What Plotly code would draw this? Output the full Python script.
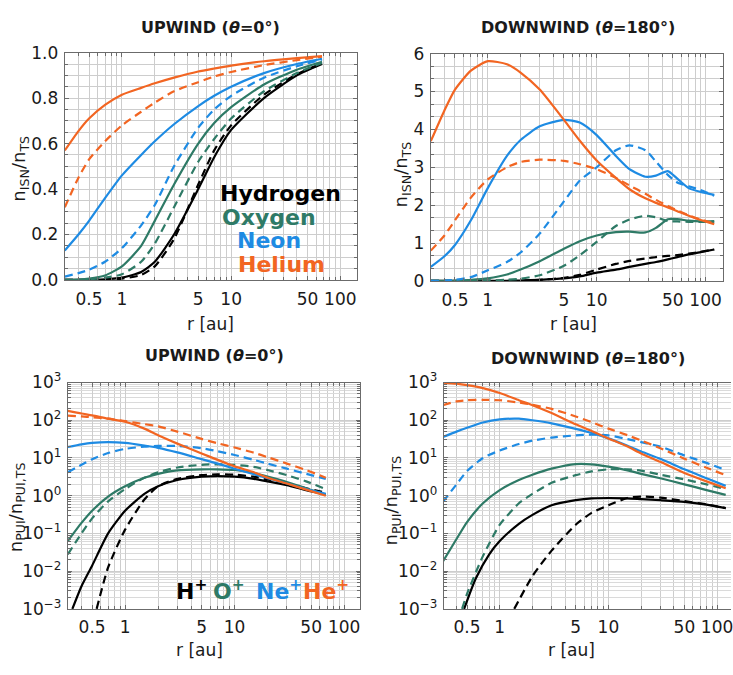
import plotly.graph_objects as go

# ---------------- colours ----------------
C_H = "#000000"
C_O = "#2E7A66"
C_NE = "#1E8BE3"
C_HE = "#F26522"

# ---------------- top-left: UPWIND n_ISN/n_TS ----------------
tl_r = [0.3, 0.4, 0.5, 0.7, 1, 1.5, 2, 3, 5, 7, 10, 20, 40, 68]
tl_he_s = [0.57, 0.655, 0.71, 0.77, 0.815, 0.845, 0.865, 0.89, 0.917, 0.93, 0.943, 0.962, 0.976, 0.985]
tl_he_d = [0.32, 0.45, 0.53, 0.61, 0.68, 0.74, 0.78, 0.83, 0.87, 0.895, 0.915, 0.945, 0.967, 0.982]
tl_ne_s = [0.13, 0.2, 0.26, 0.36, 0.46, 0.55, 0.61, 0.685, 0.765, 0.81, 0.85, 0.91, 0.95, 0.973]
tl_ne_d = [0.015, 0.03, 0.045, 0.08, 0.14, 0.24, 0.33, 0.5, 0.67, 0.75, 0.81, 0.89, 0.94, 0.97]
tl_o_s = [0.0, 0.002, 0.006, 0.02, 0.06, 0.15, 0.26, 0.42, 0.6, 0.69, 0.76, 0.86, 0.925, 0.96]
tl_o_d = [0.0, 0.001, 0.003, 0.01, 0.025, 0.08, 0.16, 0.32, 0.52, 0.62, 0.71, 0.83, 0.91, 0.955]
tl_h_s = [0.0, 0.0, 0.001, 0.003, 0.01, 0.035, 0.08, 0.2, 0.4, 0.54, 0.66, 0.8, 0.9, 0.95]
tl_h_d = [0.0, 0.0, 0.0, 0.002, 0.006, 0.022, 0.06, 0.18, 0.42, 0.57, 0.68, 0.815, 0.905, 0.952]

# ---------------- top-right: DOWNWIND n_ISN/n_TS ----------------
tr_r = [0.3, 0.4, 0.5, 0.7, 1, 1.5, 2, 3, 5, 7, 10, 15, 20, 28, 35, 45, 55, 70, 90, 120]
tr_he_s = [3.69, 4.5, 5.05, 5.55, 5.8, 5.72, 5.5, 5.05, 4.25, 3.7, 3.18, 2.72, 2.42, 2.18, 2.06, 1.94, 1.84, 1.72, 1.61, 1.5]
tr_he_d = [0.8, 1.2, 1.6, 2.2, 2.68, 3.0, 3.14, 3.2, 3.17, 3.08, 2.95, 2.72, 2.52, 2.3, 2.14, 1.98, 1.86, 1.73, 1.62, 1.52]
tr_ne_s = [0.37, 0.65, 0.95, 1.6, 2.45, 3.3, 3.72, 4.08, 4.25, 4.18, 3.85, 3.3, 2.95, 2.75, 2.78, 2.9, 2.7, 2.45, 2.35, 2.27]
tr_ne_d = [0.0, 0.01, 0.03, 0.1, 0.28, 0.5, 0.75, 1.25, 2.1, 2.65, 3.0, 3.45, 3.58, 3.45, 3.15, 2.8, 2.6, 2.5, 2.4, 2.25]
tr_o_s = [0.0, 0.0, 0.01, 0.03, 0.07, 0.17, 0.3, 0.52, 0.85, 1.05, 1.2, 1.29, 1.3, 1.28, 1.4, 1.63, 1.63, 1.59, 1.57, 1.58]
tr_o_d = [0.0, 0.0, 0.0, 0.005, 0.01, 0.03, 0.06, 0.15, 0.4, 0.68, 1.03, 1.45, 1.62, 1.72, 1.68, 1.58, 1.57, 1.56, 1.56, 1.56]
tr_h_s = [0.0, 0.0, 0.0, 0.0, 0.0, 0.005, 0.01, 0.03, 0.07, 0.12, 0.22, 0.3, 0.37, 0.45, 0.5, 0.57, 0.63, 0.7, 0.76, 0.83]
tr_h_d = [0.0, 0.0, 0.0, 0.0, 0.0, 0.005, 0.01, 0.03, 0.08, 0.16, 0.3, 0.45, 0.53, 0.59, 0.63, 0.66, 0.68, 0.72, 0.77, 0.83]

# ---------------- bottom-left: UPWIND n_PUI/n_PUI,TS ----------------
bl_r = [0.3, 0.4, 0.5, 0.7, 1, 1.5, 2, 3, 5, 7, 10, 15, 20, 30, 45, 68]
bl_he_s = [178, 151, 135, 110, 91, 60, 40, 24, 13.2, 8.9, 6.0, 4.2, 3.0, 2.1, 1.45, 1.0]
bl_he_d = [132, 126, 120, 110, 95, 79, 69, 50, 32, 24.5, 19, 13.8, 10.5, 7.1, 4.8, 3.0]
bl_ne_s = [19.5, 22.9, 25.1, 26.3, 25.1, 21.4, 18.6, 14.1, 9.3, 7.1, 5.2, 3.7, 2.9, 2.1, 1.5, 1.12]
bl_ne_d = [4.2, 6.6, 9.3, 13.5, 17.4, 20, 20.9, 20.9, 18.2, 15.1, 12.0, 8.9, 7.1, 5.2, 3.8, 2.8]
bl_o_s = [0.063, 0.19, 0.40, 0.95, 1.78, 3.0, 3.8, 4.7, 5.0, 5.0, 4.8, 4.0, 3.2, 2.3, 1.58, 1.05]
bl_o_d = [0.028, 0.1, 0.25, 0.71, 1.5, 3.0, 4.2, 5.6, 6.6, 6.8, 6.6, 5.8, 4.8, 3.5, 2.4, 1.5]
bl_h_r = [0.33, 0.4, 0.5, 0.7, 1, 1.5, 2, 3, 5, 7, 10, 15, 20, 30, 45, 68]
bl_h_s = [0.001, 0.004, 0.014, 0.1, 0.4, 1.12, 1.78, 2.6, 3.2, 3.3, 3.2, 2.8, 2.4, 1.9, 1.4, 1.07]
bl_hd_r = [0.55, 0.7, 1, 1.5, 2, 3, 5, 7, 10, 15, 20, 30, 45, 68]
bl_h_d = [0.001, 0.0126, 0.126, 0.79, 1.78, 2.8, 3.5, 3.7, 3.6, 3.2, 2.7, 2.1, 1.58, 1.2]

# ---------------- bottom-right: DOWNWIND n_PUI/n_PUI,TS ----------------
br_r = [0.3, 0.4, 0.5, 0.7, 1, 1.5, 2, 3, 5, 7, 10, 15, 20, 30, 50, 80, 120]
br_he_s = [1000, 933, 851, 708, 525, 339, 251, 155, 78, 52, 33, 20, 13.2, 7.9, 4.0, 2.4, 1.58]
br_he_d = [251, 316, 339, 347, 339, 295, 257, 200, 126, 89, 60, 40, 29, 18.2, 9.5, 5.5, 3.5]
br_ne_s = [36, 50, 63, 87, 105, 110, 100, 83, 59, 46, 33, 21, 14.8, 9.5, 5.0, 2.9, 1.82]
br_ne_d = [0.69, 2.0, 4.5, 10, 15.8, 23.4, 28.8, 34.7, 39.8, 41.7, 39.8, 31.6, 26.3, 20, 11.7, 7.4, 4.8]
br_o_s = [0.018, 0.071, 0.2, 0.63, 1.41, 2.6, 3.6, 5.2, 6.9, 6.8, 5.9, 4.7, 3.8, 2.9, 2.0, 1.41, 1.05]
br_od_r = [0.45, 0.5, 0.7, 1, 1.5, 2, 3, 5, 7, 10, 15, 20, 30, 50, 80, 120]
br_o_d = [0.001, 0.0025, 0.025, 0.17, 0.63, 1.12, 2.2, 3.5, 4.4, 5.0, 5.0, 4.6, 3.6, 2.7, 2.0, 1.5]
br_h_r = [0.47, 0.6, 0.8, 1, 1.5, 2, 3, 5, 7, 10, 15, 20, 30, 50, 80, 120]
br_h_s = [0.001, 0.0063, 0.028, 0.063, 0.18, 0.31, 0.56, 0.76, 0.85, 0.87, 0.85, 0.81, 0.76, 0.69, 0.58, 0.47]
br_hd_r = [1.36, 2, 3, 5, 7, 10, 15, 20, 30, 50, 80, 120]
br_h_d = [0.001, 0.0074, 0.035, 0.17, 0.35, 0.56, 0.87, 0.95, 0.89, 0.72, 0.59, 0.47]

# ---------------- tick labels ----------------
x_tickvals = [0.5, 1, 5, 10, 50, 100]
x_ticktext = ["0.5", "1", "5", "10", "50", "100"]
x_minorvals = [0.3, 0.4, 0.6, 0.7, 0.8, 0.9, 2, 3, 4, 6, 7, 8, 9,
               20, 30, 40, 60, 70, 80, 90, 200]
log_y_tickvals = [1e-3, 1e-2, 1e-1, 1, 10, 100, 1000]
log_y_ticktext = ["10<sup>−3</sup>", "10<sup>−2</sup>", "10<sup>−1</sup>", "10<sup>0</sup>",
                  "10<sup>1</sup>", "10<sup>2</sup>", "10<sup>3</sup>"]
log_y_minor = [m * 10 ** e for e in range(-3, 3) for m in range(2, 10)]

FONT = "DejaVu Sans, Arial, sans-serif"
W, H = 733, 675
GRID = "#cdcdcd"
FRAME = "#6b6b6b"
TXT = "#1a1a1a"

fig = go.Figure()


def line(r, v, color, dashed, xa, ya):
    fig.add_trace(go.Scatter(
        x=r, y=v, mode="lines", xaxis=xa, yaxis=ya, showlegend=False, hoverinfo="skip",
        line=dict(color=color, width=2.2, dash="8px,5px" if dashed else "solid",
                  shape="spline", smoothing=0.6)))


# top-left
for col, s, d in [(C_H, tl_h_s, tl_h_d), (C_O, tl_o_s, tl_o_d), (C_NE, tl_ne_s, tl_ne_d), (C_HE, tl_he_s, tl_he_d)]:
    line(tl_r, d, col, True, "x", "y")
    line(tl_r, s, col, False, "x", "y")
# top-right
for col, s, d in [(C_H, tr_h_s, tr_h_d), (C_O, tr_o_s, tr_o_d), (C_NE, tr_ne_s, tr_ne_d), (C_HE, tr_he_s, tr_he_d)]:
    line(tr_r, d, col, True, "x2", "y2")
    line(tr_r, s, col, False, "x2", "y2")
# bottom-left
line(bl_hd_r, bl_h_d, C_H, True, "x3", "y3")
line(bl_h_r, bl_h_s, C_H, False, "x3", "y3")
for col, s, d in [(C_O, bl_o_s, bl_o_d), (C_NE, bl_ne_s, bl_ne_d), (C_HE, bl_he_s, bl_he_d)]:
    line(bl_r, d, col, True, "x3", "y3")
    line(bl_r, s, col, False, "x3", "y3")
# bottom-right
line(br_hd_r, br_h_d, C_H, True, "x4", "y4")
line(br_h_r, br_h_s, C_H, False, "x4", "y4")
line(br_od_r, br_o_d, C_O, True, "x4", "y4")
line(br_r, br_o_s, C_O, False, "x4", "y4")
for col, s, d in [(C_NE, br_ne_s, br_ne_d), (C_HE, br_he_s, br_he_d)]:
    line(br_r, d, col, True, "x4", "y4")
    line(br_r, s, col, False, "x4", "y4")


def px_x(p):
    return p / W


def px_y(p):
    return 1 - p / H


def xaxis(dom, rng, anchor, standoff):
    return dict(type="log", domain=dom, range=rng, anchor=anchor,
                tickmode="array", tickvals=x_tickvals, ticktext=x_ticktext,
                ticks="inside", ticklen=4, tickcolor=FRAME, ticklabelstandoff=standoff,
                ticklabeloverflow="allow",
                showgrid=True, gridcolor=GRID, gridwidth=1,
                minor=dict(tickmode="array", tickvals=x_minorvals, showgrid=True,
                           gridcolor=GRID, gridwidth=1, ticks="inside", ticklen=3, tickcolor=FRAME),
                showline=True, linecolor=FRAME, linewidth=1.2, mirror="ticks",
                tickfont=dict(size=17, color=TXT, family=FONT), zeroline=False)


def yaxis_lin(dom, rng, anchor, vals, texts, minor_dt):
    return dict(domain=dom, range=rng, anchor=anchor,
                tickmode="array", tickvals=vals, ticktext=texts,
                ticks="inside", ticklen=4, tickcolor=FRAME, ticklabelstandoff=2,
                showgrid=True, gridcolor=GRID,
                minor=dict(dtick=minor_dt, showgrid=True, gridcolor=GRID, ticks="inside",
                           ticklen=3, tickcolor=FRAME),
                showline=True, linecolor=FRAME, linewidth=1.2, mirror="ticks",
                tickfont=dict(size=17, color=TXT, family=FONT), zeroline=False)


def yaxis_log(dom, anchor, mirror):
    return dict(type="log", domain=dom, range=[-3, 3], anchor=anchor,
                tickmode="array", tickvals=log_y_tickvals, ticktext=log_y_ticktext,
                ticks="inside", ticklen=4, tickcolor=FRAME, ticklabelstandoff=2,
                showgrid=True, gridcolor=GRID,
                minor=dict(tickmode="array", tickvals=log_y_minor, showgrid=True, gridcolor="#dadada",
                           ticks="inside", ticklen=3, tickcolor=FRAME),
                showline=True, linecolor=FRAME, linewidth=1.2, mirror=mirror,
                tickfont=dict(size=17, color=TXT, family=FONT), zeroline=False)


LOG03 = -0.5229
fig.update_layout(
    width=W, height=H, margin=dict(l=0, r=0, t=0, b=0),
    paper_bgcolor="white", plot_bgcolor="white",
    font=dict(family=FONT, color=TXT),
    xaxis=xaxis([px_x(65), px_x(358)], [LOG03, 2.153], "y", 4),
    xaxis2=xaxis([px_x(432), px_x(725)], [LOG03, 2.16], "y2", 4),
    xaxis3=xaxis([px_x(68), px_x(361)], [LOG03, 2.145], "y3", 3),
    xaxis4=xaxis([px_x(445), 1.0], [-0.515, 2.128], "y4", 3),
    yaxis=yaxis_lin([px_y(277), px_y(42)], [0, 1], "x", [0, 0.2, 0.4, 0.6, 0.8, 1.0],
                    ["0.0", "0.2", "0.4", "0.6", "0.8", "1.0"], 0.05),
    yaxis2=yaxis_lin([px_y(278), px_y(43)], [0, 6], "x2", [0, 1, 2, 3, 4, 5, 6],
                     ["0", "1", "2", "3", "4", "5", "6"], 1 / 3),
    yaxis3=yaxis_log([px_y(617), px_y(383)], "x3", "ticks"),
    yaxis4=yaxis_log([px_y(617), px_y(383)], "x4", False),
)

ann = []


def text(x, y, s, size, color=TXT, xanchor="center", angle=0):
    ann.append(dict(x=px_x(x), y=px_y(y), xref="paper", yref="paper", text=s, showarrow=False,
                    font=dict(size=size, color=color, family=FONT), xanchor=xanchor,
                    yanchor="middle", textangle=angle))


# titles
text(211, 16, "<b>UPWIND (<i>θ</i>=0°)</b>", 16)
text(580, 16, "<b>DOWNWIND (<i>θ</i>=180°)</b>", 16)
text(215, 355, "<b>UPWIND (<i>θ</i>=0°)</b>", 16)
text(590, 358, "<b>DOWNWIND (<i>θ</i>=180°)</b>", 16)
# axis titles
text(211, 322, "r [au]", 17)
text(575, 322, "r [au]", 17)
text(200, 660, "r [au]", 17)
text(573, 660, "r [au]", 17)
text(20, 162, "n<sub>ISN</sub>/n<sub>TS</sub>", 18, angle=-90)
text(403, 168, "n<sub>ISN</sub>/n<sub>TS</sub>", 18, angle=-90)
text(17, 512, "n<sub>PUI</sub>/n<sub>PUI,TS</sub>", 18, angle=-90)
text(393, 505, "n<sub>PUI</sub>/n<sub>PUI,TS</sub>", 18, angle=-90)
# legends
text(219, 188, "<b>Hydrogen</b>", 22, C_H, "left")
text(221, 212, "<b>Oxygen</b>", 22, C_O, "left")
text(236, 236, "<b>Neon</b>", 22, C_NE, "left")
text(237, 261, "<b>Helium</b>", 22, C_HE, "left")
text(174, 597, "<b>H<sup>+</sup></b>", 22, C_H, "left")
text(212, 597, "<b>O<sup>+</sup></b>", 22, C_O, "left")
text(255, 597, "<b>Ne<sup>+</sup></b>", 22, C_NE, "left")
text(302, 597, "<b>He<sup>+</sup></b>", 22, C_HE, "left")
fig.update_layout(annotations=ann)

fig.write_html("out.html")
